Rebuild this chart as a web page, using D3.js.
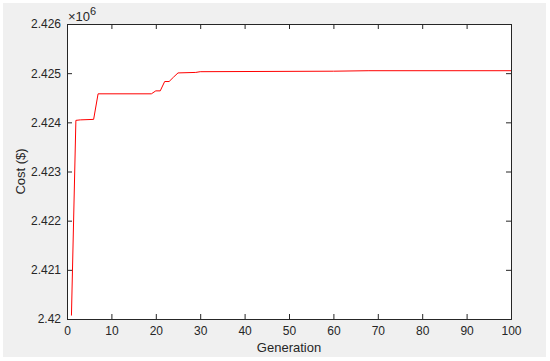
<!DOCTYPE html>
<html>
<head>
<meta charset="utf-8">
<script src="https://cdn.jsdelivr.net/npm/d3@7"></script>
<style>
  body { margin: 0; background: #ffffff; }
  text { font-family: "Liberation Sans", Arial, sans-serif; fill: #262626; }
</style>
</head>
<body>
<div id="chart"></div>
<script>
// points where the best-cost curve changes (generation, cost)
var generations = [1, 2, 3, 6, 7, 19, 20, 21, 22, 23, 24, 25, 29, 30, 60, 68, 100];
var costs = [2.42007, 2.42404, 2.42405, 2.42406, 2.42458, 2.42458, 2.42464, 2.42464,
             2.42483, 2.42483, 2.42492, 2.425005, 2.425015, 2.42503, 2.42504, 2.42505, 2.42505];
var xTicks = [0, 10, 20, 30, 40, 50, 60, 70, 80, 90, 100];
var yTicks = [2.420, 2.421, 2.422, 2.423, 2.424, 2.425, 2.426];
var yTickLabels = ["2.42", "2.421", "2.422", "2.423", "2.424", "2.425", "2.426"];

var data = generations.map(function(g, i) { return {gen: g, cost: costs[i]}; });

var W = 550, H = 361;
var margin = {top: 24, right: 39, bottom: 42, left: 67},
    width = W - margin.left - margin.right,
    height = H - margin.top - margin.bottom;

var svgRoot = d3.select("#chart").append("svg")
    .attr("width", W)
    .attr("height", H);

// grey figure background
svgRoot.append("rect")
    .attr("x", 3).attr("y", 3)
    .attr("width", 543).attr("height", 354)
    .attr("fill", "#f0f0f0");

var svg = svgRoot.append("g")
    .attr("transform", "translate(" + margin.left + "," + margin.top + ")");

svg.append("rect")
    .attr("width", width).attr("height", height)
    .attr("fill", "#ffffff");

var xScale = d3.scaleLinear().domain([0, 100]).range([0, width]);
var yScale = d3.scaleLinear().domain([2.420, 2.426]).range([height, 0]);

var tickLen = 5;

// bottom axis
var xAxis = d3.axisBottom(xScale).tickValues(xTicks).tickSize(-tickLen).tickPadding(7)
    .tickFormat(d3.format("d"));
var gx = svg.append("g").attr("transform", "translate(0," + height + ")").call(xAxis);

// top axis (ticks only)
var gxt = svg.append("g").call(d3.axisTop(xScale).tickValues(xTicks).tickSize(-tickLen).tickFormat(""));

// left axis
var yAxis = d3.axisLeft(yScale).tickValues(yTicks).tickSize(-tickLen).tickPadding(6)
    .tickFormat(function(d, i) { return yTickLabels[i]; });
var gy = svg.append("g").call(yAxis);

// right axis (ticks only)
var gyr = svg.append("g").attr("transform", "translate(" + width + ",0)")
    .call(d3.axisRight(yScale).tickValues(yTicks).tickSize(-tickLen).tickFormat(""));

[gx, gxt, gy, gyr].forEach(function(g) {
    g.selectAll("path").attr("stroke", "#262626").attr("stroke-width", 1);
    g.selectAll("line").attr("stroke", "#262626").attr("stroke-width", 1);
    g.selectAll("text").attr("font-size", 12)
        .attr("font-family", "'Liberation Sans', Arial, sans-serif")
        .attr("fill", "#262626");
});

// cost curve
var valueline = d3.line()
    .x(function(d) { return xScale(d.gen); })
    .y(function(d) { return yScale(d.cost); });

svg.append("path")
    .datum(data)
    .attr("fill", "none")
    .attr("stroke", "#ff0000")
    .attr("stroke-width", 1)
    .attr("d", valueline);

// exponent label
var expo = svg.append("text")
    .attr("x", 1).attr("y", -3)
    .attr("font-size", 13);
expo.append("tspan").text("\u00d710");
expo.append("tspan").attr("dy", -6).attr("font-size", 11).text("6");

// axis labels
svg.append("text")
    .attr("x", width / 2).attr("y", height + 33)
    .attr("text-anchor", "middle")
    .attr("font-size", 13)
    .text("Generation");

svg.append("text")
    .attr("transform", "translate(-42," + (height / 2) + ") rotate(-90)")
    .attr("text-anchor", "middle")
    .attr("font-size", 13)
    .text("Cost ($)");
</script>
</body>
</html>
